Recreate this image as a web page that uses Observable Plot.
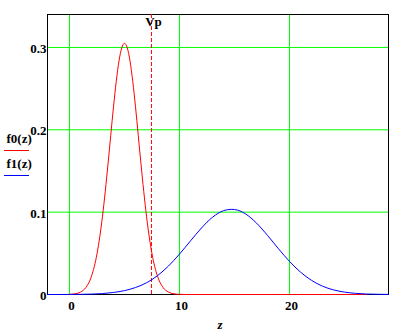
<!DOCTYPE html>
<html>
<head>
<meta charset="utf-8">
<script src="https://cdn.jsdelivr.net/npm/d3@7"></script>
<script src="https://cdn.jsdelivr.net/npm/@observablehq/plot@0.6"></script>
<style>
  html, body { margin: 0; padding: 0; background: #fff; }
  #chart { position: relative; width: 403px; height: 333px; }
</style>
</head>
<body>
<div id="chart"></div>
<script>
// z values and f0(z) (red curve)
const zRed = [0, 0.5, 1, 1.5, 2, 2.5, 3, 3.5, 4, 4.25, 4.5, 4.75, 5, 5.25, 5.5, 5.75, 6, 6.5, 7, 7.5, 8, 8.5, 9, 9.5, 10, 10.5, 27];
const f0 = [0.0002, 0.0008, 0.0029, 0.0086, 0.0222, 0.0494, 0.0951, 0.1583, 0.2279, 0.2589, 0.2836, 0.2995, 0.3050, 0.2995, 0.2836, 0.2589, 0.2279, 0.1583, 0.0951, 0.0494, 0.0222, 0.0086, 0.0029, 0.0008, 0.0002, 0, 0];

// z values and f1(z) (blue curve)
const zBlue = [-2, -1, 0, 1, 2, 3, 4, 5, 6, 7, 8, 9, 10, 11, 12, 13, 14, 14.7, 15, 16, 17, 18, 19, 20, 21, 22, 23, 24, 25, 26, 27, 28, 29];
const f1 = [0, 0, 0.0001, 0.0002, 0.0005, 0.0011, 0.0025, 0.0047, 0.0085, 0.0142, 0.0229, 0.0346, 0.0491, 0.0651, 0.0808, 0.0938, 0.1018, 0.1034, 0.1032, 0.0979, 0.0867, 0.0718, 0.0555, 0.0402, 0.0272, 0.0172, 0.0101, 0.0056, 0.0029, 0.0014, 0.0006, 0.0003, 0.0001];

const Vp = 7.45;
const xTicks = [0, 10, 20];
const yTicks = [0, 0.1, 0.2, 0.3];
const yGrid = [0.1, 0.2, 0.3];
const seriesNames = ["f0(z)", "f1(z)"];
const seriesColors = ["#ff0000", "#0000ff"];

const redData = zRed.map((z, i) => ({z, v: f0[i]}));
const blueData = zBlue.map((z, i) => ({z, v: f1[i]}));

const green = "#00ff00";
const font = "'Liberation Serif', 'Times New Roman', serif";
const fs = 13;

const plot = Plot.plot({
  width: 403,
  height: 333,
  marginLeft: 47,
  marginRight: 15,
  marginTop: 14,
  marginBottom: 39,
  style: {fontFamily: font, background: "#fff", overflow: "visible"},
  x: {domain: [-2, 29], axis: null},
  y: {domain: [0, 0.34], axis: null},
  marks: [
    Plot.ruleX(xTicks, {x: d => d, stroke: green, strokeWidth: 1}),
    Plot.ruleY(yGrid, {y: d => d, stroke: green, strokeWidth: 1}),
    Plot.frame({stroke: "#000", strokeWidth: 1}),
    Plot.ruleX([Vp], {x: d => d, stroke: "#ff0000", strokeWidth: 1, strokeDasharray: "4,2"}),
    Plot.line(redData, {x: "z", y: "v", stroke: seriesColors[0], strokeWidth: 1, curve: "monotone-x"}),
    Plot.line(blueData, {x: "z", y: "v", stroke: seriesColors[1], strokeWidth: 1, curve: "monotone-x"}),
    // x tick labels
    Plot.text(xTicks, {x: d => d, text: d => String(d), frameAnchor: "bottom", lineAnchor: "bottom", dy: 15, dx: 2,
      fontSize: fs, fontWeight: "bold", fill: "#000"}),
    // y tick labels
    Plot.text(yTicks, {y: d => d, text: d => d === 0 ? "0" : d.toFixed(1), frameAnchor: "left", textAnchor: "end",
      lineAnchor: "bottom", dx: -1, dy: 5.5, fontSize: fs, fontWeight: "bold", fill: "#000"}),
    // Vp label
    Plot.text([Vp], {x: d => d, text: () => "Vp", frameAnchor: "top", lineAnchor: "bottom", dy: 11, dx: 2,
      fontSize: fs, fontWeight: "bold", fill: "#000"}),
    // x axis label
    Plot.text(["z"], {text: d => d, frameAnchor: "bottom", lineAnchor: "bottom", dy: 34, dx: 2,
      fontSize: fs, fontWeight: "bold", fontStyle: "italic", fill: "#000"}),
    // legend labels on the left
    Plot.text([seriesNames[0]], {text: d => d, frameAnchor: "left", textAnchor: "start", lineAnchor: "bottom",
      dx: -41, dy: -11.5, fontSize: fs, fontWeight: "bold", fill: "#000"}),
    Plot.text([seriesNames[1]], {text: d => d, frameAnchor: "left", textAnchor: "start", lineAnchor: "bottom",
      dx: -41, dy: 13.5, fontSize: fs, fontWeight: "bold", fill: "#000"})
  ]
});

document.getElementById("chart").appendChild(plot);

// legend swatches (line samples under each label)
const svg = d3.select(plot);
const swatchY = [150.5, 175.5];
seriesColors.forEach((c, i) => {
  svg.append("line")
    .attr("x1", 4).attr("x2", 29)
    .attr("y1", swatchY[i]).attr("y2", swatchY[i])
    .attr("stroke", c).attr("stroke-width", 1);
});
</script>
</body>
</html>
